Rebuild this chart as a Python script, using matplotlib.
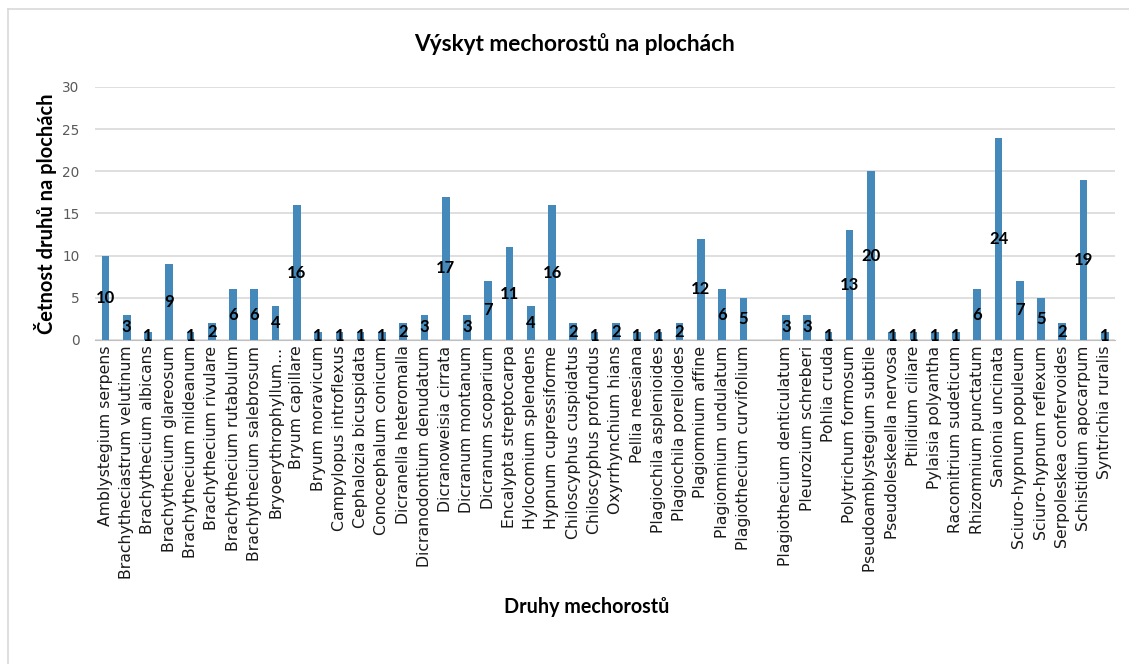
import matplotlib
matplotlib.use('Agg')
import matplotlib.pyplot as plt
from matplotlib.lines import Line2D

# Druhy mechorostu (one empty category in the source sheet)
species = [
    'Amblystegium serpens', 'Brachytheciastrum velutinum', 'Brachythecium albicans',
    'Brachythecium glareosum', 'Brachythecium mildeanum', 'Brachythecium rivulare',
    'Brachythecium rutabulum', 'Brachythecium salebrosum', 'Bryoerythrophyllum...',
    'Bryum capillare', 'Bryum moravicum', 'Campylopus introflexus',
    'Cephalozia bicuspidata', 'Conocephalum conicum', 'Dicranella heteromalla',
    'Dicranodontium denudatum', 'Dicranoweisia cirrata', 'Dicranum montanum',
    'Dicranum scoparium', 'Encalypta streptocarpa', 'Hylocomium splendens',
    'Hypnum cupressiforme', 'Chiloscyphus cuspidatus', 'Chiloscyphus profundus',
    'Oxyrrhynchium hians', 'Pellia neesiana', 'Plagiochila asplenioides',
    'Plagiochila porelloides', 'Plagiomnium affine', 'Plagiomnium undulatum',
    'Plagiothecium curvifolium', '', 'Plagiothecium denticulatum',
    'Pleurozium schreberi', 'Pohlia cruda', 'Polytrichum formosum',
    'Pseudoamblystegium subtile', 'Pseudoleskeella nervosa', 'Ptilidium ciliare',
    'Pylaisia polyantha', 'Racomitrium sudeticum', 'Rhizomnium punctatum',
    'Sanionia uncinata', 'Sciuro-hypnum populeum', 'Sciuro-hypnum reflexum',
    'Serpoleskea confervoides', 'Schistidium apocarpum', 'Syntrichia ruralis',
]
counts = [
    10, 3, 1, 9, 1, 2, 6, 6, 4, 16, 1, 1, 1, 1, 2, 3, 17, 3, 7, 11, 4, 16,
    2, 1, 2, 1, 1, 2, 12, 6, 5, 0, 3, 3, 1, 13, 20, 1, 1, 1, 1, 6, 24, 7,
    5, 2, 19, 1,
]
y_ticks = [0, 5, 10, 15, 20, 25, 30]

bar_color = '#4589ba'
grid_color = '#d9d9d9'

fig = plt.figure(figsize=(11.29, 6.64), dpi=100)
ax = fig.add_axes([0.084, 0.488, 0.904, 0.381])

x = list(range(len(species)))
bars = ax.bar(x, counts, width=0.36, color=bar_color, zorder=3)

# value labels in the middle of each bar
labels = [str(c) if c else '' for c in counts]
ax.bar_label(bars, labels=labels, label_type='center', fontsize=12,
             fontweight='bold', family='Lato', color='black', zorder=4)

ax.set_xlim(-0.5, len(species) - 0.5)
ax.set_ylim(0, 30)
ax.set_yticks(y_ticks)
ax.yaxis.grid(True, color=grid_color, linewidth=1.2, zorder=0)
ax.set_axisbelow(True)

ax.set_xticks(x)
ax.set_xticklabels(species, rotation=90, fontsize=11.3, family='DejaVu Sans',
                   color='#1a1a1a')
ax.tick_params(axis='x', length=0, pad=4)
ax.tick_params(axis='y', length=0, pad=11, labelsize=9.8, labelcolor='#595959')

for s in ['top', 'right', 'left']:
    ax.spines[s].set_visible(False)
ax.spines['bottom'].set_color('#bfbfbf')

ax.set_ylabel('Četnost druhů na plochách', fontsize=14.5, fontweight='bold',
              family='Lato', labelpad=4)
fig.text(587 / 1129, 1 - 607 / 664, 'Druhy mechorostů', ha='center', va='center',
         fontsize=14.2, fontweight='bold', family='Lato')
fig.text(575 / 1129, 1 - 44 / 664, 'Výskyt mechorostů na plochách', ha='center',
         va='center', fontsize=16.3, fontweight='bold', family='Lato')

# light frame of the chart area
fig.add_artist(Line2D([8 / 1129, 8 / 1129], [0, 1 - 9 / 664], color=grid_color,
                      linewidth=1.2))
fig.add_artist(Line2D([8 / 1129, 1], [1 - 9 / 664, 1 - 9 / 664], color=grid_color,
                      linewidth=1.2))

fig.savefig('out.png', dpi=100)
